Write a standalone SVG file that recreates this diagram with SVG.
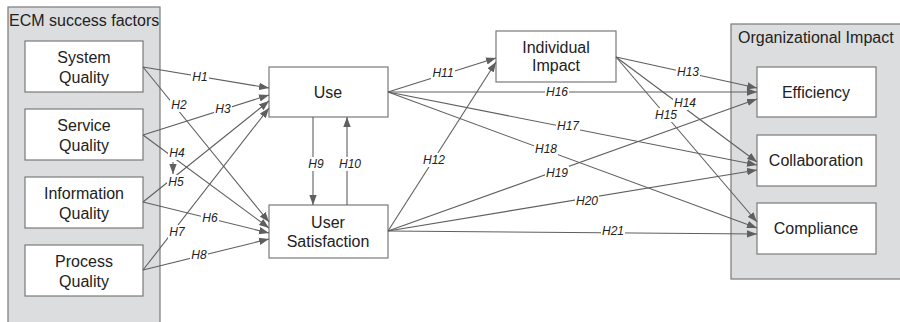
<svg xmlns="http://www.w3.org/2000/svg" width="900" height="322" viewBox="0 0 900 322">
<defs>
<marker id="arr" markerUnits="userSpaceOnUse" markerWidth="11" markerHeight="8" refX="10" refY="4" orient="auto">
<path d="M0,0.3 L10,4 L0,7.7 z" fill="#5f5f5f"/>
</marker>
<style>
.grp{fill:#dcdddf;stroke:#7a7a7a;stroke-width:1.2}
.box{fill:#fff;stroke:#7a7a7a;stroke-width:1.2}
.t{font-family:"Liberation Sans",Arial,sans-serif;font-size:16px;fill:#222;text-anchor:middle}
.gt{font-family:"Liberation Sans",Arial,sans-serif;font-size:16px;fill:#222}
.c line{stroke:#5f5f5f;stroke-width:1.1;marker-end:url(#arr)}
.l rect{fill:#fff}
.l text{font-family:"Liberation Sans",Arial,sans-serif;font-size:12px;font-style:italic;fill:#222;text-anchor:middle}
</style>
</defs>
<rect width="900" height="322" fill="#fff"/>
<g id="ecm-success-factors">
<rect class="grp" x="8" y="7" width="152" height="325"/>
<text class="gt" x="9" y="26">ECM success factors</text>
</g>
<g id="org-impact">
<rect class="grp" x="731" y="24" width="180" height="255"/>
<text class="gt" x="738" y="43">Organizational Impact</text>
</g>
<g id="system-quality"><rect class="box" x="25" y="41" width="118" height="51"/><text class="t" x="84" y="63">System</text><text class="t" x="84" y="83">Quality</text></g>
<g id="service-quality"><rect class="box" x="25" y="109" width="118" height="51"/><text class="t" x="84" y="131">Service</text><text class="t" x="84" y="151">Quality</text></g>
<g id="information-quality"><rect class="box" x="25" y="177" width="118" height="51"/><text class="t" x="84" y="199">Information</text><text class="t" x="84" y="219">Quality</text></g>
<g id="process-quality"><rect class="box" x="25" y="245" width="118" height="51"/><text class="t" x="84" y="267">Process</text><text class="t" x="84" y="287">Quality</text></g>
<g id="use"><rect class="box" x="269" y="67" width="119" height="50"/><text class="t" x="328" y="98">Use</text></g>
<g id="user-satisfaction"><rect class="box" x="269" y="205" width="119" height="53"/><text class="t" x="328" y="228">User</text><text class="t" x="328" y="247">Satisfaction</text></g>
<g id="individual-impact"><rect class="box" x="496" y="31" width="120" height="51"/><text class="t" x="556" y="53">Individual</text><text class="t" x="556" y="71">Impact</text></g>
<g id="efficiency"><rect class="box" x="757" y="67" width="119" height="50"/><text class="t" x="816" y="98">Efficiency</text></g>
<g id="collaboration"><rect class="box" x="757" y="135" width="119" height="51"/><text class="t" x="816" y="166">Collaboration</text></g>
<g id="compliance"><rect class="box" x="757" y="203" width="119" height="51"/><text class="t" x="816" y="234">Compliance</text></g>
<g id="connectors" class="c">
<line x1="143" y1="67" x2="269" y2="88"/>
<line x1="143" y1="67" x2="269" y2="222"/>
<line x1="143" y1="135" x2="269" y2="95"/>
<line x1="143" y1="135" x2="269" y2="228"/>
<line x1="143" y1="202" x2="269" y2="101"/>
<line x1="143" y1="202" x2="269" y2="233"/>
<line x1="143" y1="270" x2="269" y2="108"/>
<line x1="143" y1="270" x2="269" y2="239"/>
<line x1="173" y1="162" x2="173" y2="174"/>
<line x1="313" y1="117" x2="313" y2="205"/>
<line x1="347" y1="205" x2="347" y2="117"/>
<line x1="388" y1="92" x2="496" y2="58"/>
<line x1="388" y1="231" x2="496" y2="62"/>
<line x1="616" y1="57" x2="757" y2="88"/>
<line x1="616" y1="57" x2="757" y2="162"/>
<line x1="616" y1="57" x2="757" y2="222"/>
<line x1="388" y1="92" x2="757" y2="92"/>
<line x1="388" y1="92" x2="757" y2="165"/>
<line x1="388" y1="92" x2="757" y2="228"/>
<line x1="388" y1="231" x2="757" y2="99"/>
<line x1="388" y1="231" x2="757" y2="170"/>
<line x1="388" y1="231" x2="757" y2="234"/>
</g>
<g id="labels" class="l">
<g><rect x="191" y="70" width="18" height="14"/><text x="200" y="81">H1</text></g>
<g><rect x="170" y="98" width="18" height="14"/><text x="179" y="109">H2</text></g>
<g><rect x="214" y="102" width="18" height="14"/><text x="223" y="113">H3</text></g>
<g><rect x="168" y="146" width="18" height="14"/><text x="177" y="157">H4</text></g>
<g><rect x="167" y="175" width="18" height="14"/><text x="176" y="186">H5</text></g>
<g><rect x="201" y="211" width="18" height="14"/><text x="210" y="222">H6</text></g>
<g><rect x="168" y="225" width="18" height="14"/><text x="177" y="236">H7</text></g>
<g><rect x="190" y="248" width="18" height="14"/><text x="199" y="259">H8</text></g>
<g><rect x="307" y="157" width="18" height="14"/><text x="316" y="168">H9</text></g>
<g><rect x="338" y="157" width="24" height="14"/><text x="350" y="168">H10</text></g>
<g><rect x="431" y="66" width="24" height="14"/><text x="443" y="77">H11</text></g>
<g><rect x="422" y="153" width="24" height="14"/><text x="434" y="164">H12</text></g>
<g><rect x="676" y="65" width="24" height="14"/><text x="688" y="76">H13</text></g>
<g><rect x="673" y="96" width="24" height="14"/><text x="685" y="107">H14</text></g>
<g><rect x="654" y="108" width="24" height="14"/><text x="666" y="119">H15</text></g>
<g><rect x="545" y="85" width="24" height="14"/><text x="557" y="96">H16</text></g>
<g><rect x="556" y="119" width="24" height="14"/><text x="568" y="130">H17</text></g>
<g><rect x="534" y="142" width="24" height="14"/><text x="546" y="153">H18</text></g>
<g><rect x="545" y="166" width="24" height="14"/><text x="557" y="177">H19</text></g>
<g><rect x="575" y="194" width="24" height="14"/><text x="587" y="205">H20</text></g>
<g><rect x="601" y="224" width="24" height="14"/><text x="613" y="235">H21</text></g>
</g>
</svg>
